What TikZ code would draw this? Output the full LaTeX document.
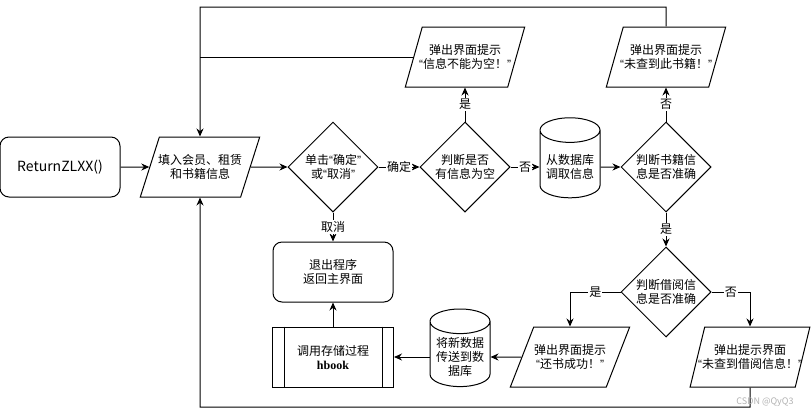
\documentclass[tikz,border=0pt]{standalone}
\usepackage{fontspec}
\setmainfont{Noto Sans CJK SC}
\newfontfamily\hbookfont{Liberation Serif}
\newfontfamily\quotefont{Liberation Sans}
\newcommand\qopen{{\quotefont “}}
\newcommand\qclose{{\quotefont ”}}
\usepackage{tikz}
\usetikzlibrary{positioning,shapes.geometric,arrows.meta}

\begin{document}
\begin{tikzpicture}[->, >={Stealth[length=8pt,width=7pt]}, line width=1pt, x=1pt, y=-1pt,
    font=\fontsize{12pt}{14pt}\selectfont,
    box/.style={rectangle, rounded corners=9pt, draw, align=center, minimum width=120pt, minimum height=60pt},
    io/.style={trapezium, trapezium left angle=72, trapezium right angle=108, trapezium stretches=true,
      draw, align=center, inner xsep=-20pt, minimum width=120pt, minimum height=60pt},
    choice/.style={diamond, draw, align=center, inner sep=0pt, minimum size=90pt},
    db/.style={cylinder, shape border rotate=90, aspect=0.45, draw, align=center, minimum width=60pt, minimum height=80pt},
    proc/.style={rectangle, draw, align=center, minimum width=121pt, minimum height=60pt},
    lbl/.style={fill=white, inner sep=1pt}]

        \useasboundingbox (0,0) rectangle (811,416);

        % 主流程
        \node (ret) [box, font=\fontsize{14pt}{16pt}\selectfont] at (60,167) {ReturnZLXX()};
        \node (fill) [io, node distance=140pt, right of=ret] {填入会员、租赁\\和书籍信息};
        \node (choose) [choice, node distance=133pt, right of=fill] {单击\qopen 确定\qclose\\或\qopen 取消\qclose};
        \node (empty) [choice, node distance=132pt, right of=choose] {判断是否\\有信息为空};
        \node (db1) [db, node distance=105pt, right of=empty] {从数据库\\调取信息};
        \node (book) [choice, node distance=96pt, right of=db1] {判断书籍信\\息是否准确};

        % 提示
        \node (msg1) [io, node distance=110pt, above of=empty] {弹出界面提示\\\qopen 信息不能为空！\qclose};
        \node (msg2) [io, node distance=110pt, above of=book] {弹出界面提示\\\qopen 未查到此书籍！\qclose};

        % 还书
        \node (borrow) [choice, node distance=125pt, below of=book] {判断借阅信\\息是否准确};
        \node (ok) [io, node distance=190pt, below of=db1] {弹出界面提示\\\qopen 还书成功！\qclose};
        \node (nobr) [io, node distance=180pt, right of=ok] {弹出提示界面\\\qopen 未查到借阅信息！\qclose};
        \node (db2) [db, minimum height=75pt, node distance=110pt, left of=ok] {将新数据\\传送到数\\据库};
        \node (call) [proc, node distance=127pt, left of=db2] {调用存储过程\\{\hbookfont\bfseries hbook}};
        \node (quit) [box, node distance=105pt, below of=choose] {退出程序\\返回主界面};
        \draw[-] ([xshift=12pt]call.north west) -- ([xshift=12pt]call.south west);
        \draw[-] ([xshift=-12pt]call.north east) -- ([xshift=-12pt]call.south east);

        \coordinate (topL) at (200,7);
        \coordinate (botL) at (200,407);

        \draw (ret) -- (fill);
        \draw (fill) -- (choose);
        \draw (choose) -- node[lbl] {确定} (empty);
        \draw (empty) -- node[lbl] {否} (db1);
        \draw (db1) -- (book);
        \draw (empty) -- node[lbl] {是} (msg1);
        \draw (book) -- node[lbl] {否} (msg2);
        \draw (book) -- node[lbl] {是} (borrow);
        \draw (borrow.west) -| node[lbl, pos=0.25] {是} (ok.north);
        \draw (borrow.east) -| node[lbl, pos=0.25] {否} (nobr.north);
        \draw (ok) -- (db2);
        \draw (db2) -- (call);
        \draw (call) -- (quit);
        \draw (choose) -- node[lbl] {取消} (quit);

        % 回到填写信息
        \draw (msg2.north) |- (topL) -- (fill.north);
        \draw[-] (msg1.west) -- (msg1.west -| topL);
        \draw (nobr.south) |- (botL) -- (fill.south);

        \node (mark) [text=gray!60, font=\fontsize{9pt}{10pt}\selectfont] at (765,402) {CSDN @QyQ3};

    \end{tikzpicture}
\end{document}
